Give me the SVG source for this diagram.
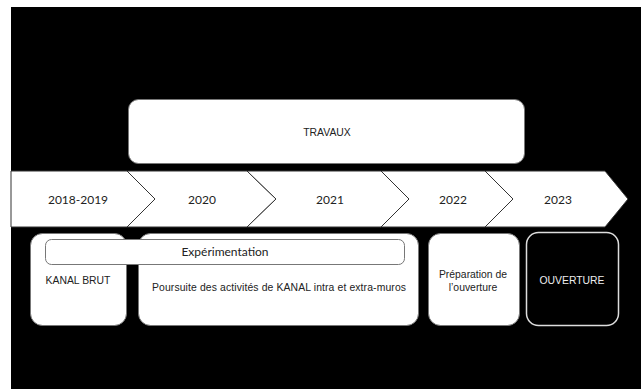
<svg xmlns="http://www.w3.org/2000/svg" width="641" height="389" viewBox="0 0 641 389">
<style>
.seg{fill:#fff;stroke:#333;stroke-width:1;stroke-linejoin:miter}
.yr{font-family:Lato,"Liberation Sans",sans-serif;font-size:12px;fill:#222;text-anchor:middle;dominant-baseline:central}
.box{fill:#fff;stroke:#777;stroke-width:1}
.lbl{font-family:"Liberation Sans",Arial,sans-serif;font-size:10.4px;fill:#222;text-anchor:middle;dominant-baseline:central}
</style>
<rect x="0" y="0" width="641" height="389" fill="#fff"/>
<rect x="11" y="7" width="630" height="382" fill="#000"/>
<g id="travaux">
<rect class="box" x="128.5" y="99.5" width="396" height="64" rx="10"/>
<text class="lbl" x="327" y="132">TRAVAUX</text>
</g>
<g id="timeline">
<g id="y2018"><polygon class="seg" points="11,171 127,171 155,199 127,227 11,227"/><text class="yr" x="78" y="199">2018-2019</text></g>
<g id="y2020"><polygon class="seg" points="127,171 247,171 276,199 247,227 127,227 155,199"/><text class="yr" x="202" y="199">2020</text></g>
<g id="y2021"><polygon class="seg" points="247,171 381,171 409,199 381,227 247,227 276,199"/><text class="yr" x="330" y="199">2021</text></g>
<g id="y2022"><polygon class="seg" points="381,171 485,171 513,199 485,227 381,227 409,199"/><text class="yr" x="453" y="199">2022</text></g>
<g id="y2023"><polygon class="seg" points="485,171 605,171 628,199 605,227 485,227 513,199"/><text class="yr" x="558" y="199">2023</text></g>
</g>
<g id="kanal-brut">
<rect class="box" x="30.5" y="233.5" width="96" height="92" rx="12"/>
<text class="lbl" x="78" y="280">KANAL BRUT</text>
</g>
<g id="poursuite">
<rect class="box" x="138.5" y="233.5" width="280" height="92" rx="12"/>
<text class="lbl" x="279" y="287" textLength="254" lengthAdjust="spacing">Poursuite des activités de KANAL intra et extra-muros</text>
</g>
<g id="experimentation">
<rect class="box" x="45.5" y="239.5" width="359" height="25" rx="6"/>
<text class="yr" x="225" y="251.5">Expérimentation</text>
</g>
<g id="preparation">
<rect class="box" x="428.5" y="233.5" width="91" height="92" rx="12"/>
<text class="lbl" x="473" y="274">Préparation  de</text>
<text class="lbl" x="473" y="287">l’ouverture</text>
</g>
<g id="ouverture">
<rect x="526.5" y="232.5" width="92" height="93" rx="12" fill="#000" stroke="#ddd" stroke-width="1.5"/>
<text class="lbl" x="572" y="280" style="fill:#eee">OUVERTURE</text>
</g>
<g id="connectors"></g>
</svg>
